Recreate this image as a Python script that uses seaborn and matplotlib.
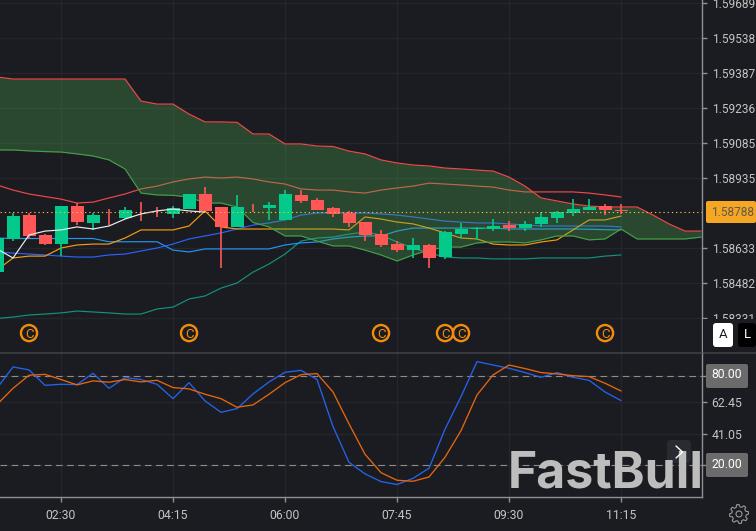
import numpy as np
import matplotlib
matplotlib.use('Agg')
import matplotlib.pyplot as plt
from matplotlib.lines import Line2D
from matplotlib.patches import FancyBboxPatch, Circle, Polygon
from matplotlib.transforms import IdentityTransform
import seaborn as sns

# 15 minute bars, minutes since midnight
times = np.arange(90, 765, 15)

opens = [1.58529,1.58672,1.58775,1.58689,1.58650,1.58814,1.58741,1.58771,1.58762,1.58797,1.58788,1.58780,1.58801,1.58866,1.58810,1.58724,1.58810,1.58806,1.58754,1.58862,
         1.58840,1.58806,1.58784,1.58745,1.58693,1.58650,1.58624,1.58646,1.58594,1.58693,1.58717,1.58715,1.58732,1.58719,1.58737,1.58762,1.58784,1.58797,1.58814,1.58797]
closes = [1.58676,1.58771,1.58685,1.58650,1.58814,1.58745,1.58775,1.58770,1.58797,1.58796,1.58787,1.58806,1.58866,1.58793,1.58724,1.58810,1.58809,1.58819,1.58866,1.58836,
          1.58797,1.58780,1.58741,1.58689,1.58646,1.58624,1.58646,1.58590,1.58702,1.58715,1.58718,1.58728,1.58719,1.58737,1.58767,1.58788,1.58801,1.58810,1.58797,1.58793]
highs = [1.58676,1.58784,1.58784,1.58693,1.58814,1.58827,1.58784,1.58801,1.58810,1.58831,1.58810,1.58814,1.58866,1.58896,1.58810,1.58862,1.58823,1.58831,1.58883,1.58883,
         1.58849,1.58810,1.58793,1.58745,1.58711,1.58663,1.58676,1.58650,1.58706,1.58741,1.58724,1.58758,1.58749,1.58749,1.58788,1.58793,1.58844,1.58844,1.58823,1.58823]
lows = [1.58529,1.58663,1.58672,1.58646,1.58598,1.58732,1.58711,1.58732,1.58758,1.58749,1.58767,1.58762,1.58801,1.58793,1.58547,1.58724,1.58788,1.58754,1.58754,1.58827,
        1.58797,1.58767,1.58724,1.58663,1.58637,1.58616,1.58590,1.58547,1.58586,1.58676,1.58668,1.58706,1.58706,1.58706,1.58724,1.58741,1.58771,1.58797,1.58775,1.58780]

cloud_top = [1.59371,1.59362,1.59362,1.59362,1.59362,1.59362,1.59362,1.59362,1.59362,1.59267,1.59254,1.59254,1.59211,1.59177,1.59177,1.59175,1.59125,1.59125,1.59082,1.59082,
             1.59073,1.59071,1.59051,1.59039,1.59013,1.59000,1.58991,1.58987,1.58978,1.58974,1.58969,1.58965,1.58939,1.58900,1.58849,1.58836,1.58823,1.58814,1.58810,1.58810,
             1.58810,1.58775,1.58737,1.58706,1.58706]
cloud_low = [1.59056,1.59056,1.59052,1.59049,1.59047,1.59039,1.59030,1.59013,1.58974,1.58870,1.58862,1.58860,1.58853,1.58827,1.58827,1.58810,1.58743,1.58724,1.58685,1.58685,
             1.58663,1.58642,1.58642,1.58624,1.58603,1.58577,1.58603,1.58624,1.58637,1.58637,1.58655,1.58659,1.58659,1.58655,1.58668,1.58685,1.58685,1.58668,1.58672,1.58715,
             1.58672,1.58672,1.58672,1.58672,1.58680]
band_up = [1.58905,1.58883,1.58866,1.58855,1.58844,1.58827,1.58831,1.58849,1.58866,1.58888,1.58900,1.58918,1.58931,1.58939,1.58935,1.58939,1.58931,1.58918,1.58909,1.58888,
           1.58883,1.58883,1.58875,1.58870,1.58883,1.58892,1.58900,1.58913,1.58909,1.58905,1.58900,1.58896,1.58883,1.58875,1.58875,1.58875,1.58875,1.58870,1.58862,1.58853]
white_line = [1.58629,1.58590,1.58689,1.58706,1.58711,1.58724,1.58715,1.58728,1.58758,1.58780,1.58793,1.58801,1.58793,1.58788]
orange_line = [1.58538,1.58590,1.58598,1.58598,1.58633,1.58646,1.58650,1.58650,1.58676,1.58711,1.58711,1.58711,1.58728,1.58793,1.58724,1.58715,1.58715,1.58715,1.58715,1.58715,
               1.58715,1.58715,1.58711,1.58767,1.58758,1.58745,1.58737,1.58719,1.58698,1.58676,1.58672,1.58650,1.58646,1.58646,1.58659,1.58668,1.58711,1.58754,1.58754,1.58771]
sky_line = [1.58676,1.58674,1.58674,1.58674,1.58674,1.58674,1.58674,1.58660,1.58660,1.58660,1.58660,1.58624,1.58616,1.58629,1.58629,1.58629,1.58629,1.58629,1.58646,1.58655,
            1.58659,1.58672,1.58680,1.58685,1.58685,1.58706,1.58719,1.58719,1.58719,1.58719,1.58719,1.58719,1.58715,1.58715,1.58715,1.58715,1.58715,1.58714,1.58712,1.58711]
blue_line = [1.58616,1.58611,1.58607,1.58603,1.58598,1.58594,1.58594,1.58603,1.58607,1.58620,1.58633,1.58650,1.58672,1.58685,1.58698,1.58715,1.58732,1.58741,1.58754,1.58775,
             1.58784,1.58784,1.58784,1.58784,1.58780,1.58775,1.58767,1.58758,1.58749,1.58745,1.58741,1.58741,1.58737,1.58732,1.58728,1.58728,1.58728,1.58728,1.58728,1.58724]
teal_line = [1.58329,1.58335,1.58344,1.58348,1.58353,1.58361,1.58357,1.58353,1.58348,1.58348,1.58370,1.58378,1.58413,1.58426,1.58460,1.58482,1.58529,1.58564,1.58607,1.58663,
             1.58676,1.58680,1.58693,1.58702,1.58689,1.58659,1.58633,1.58611,1.58594,1.58590,1.58590,1.58586,1.58586,1.58586,1.58590,1.58590,1.58590,1.58590,1.58598,1.58603]

stoch_k = [72,86.3,84.3,73.9,74.6,74.4,82,71.9,79.1,77.8,74.6,64.9,75.7,63.4,55.7,58.2,68.1,76.2,82.7,84,
           77.8,46.1,22,14.2,9,7,11.2,18,44.3,66.3,89.9,87.6,85.4,82.5,79.3,82.5,79.3,77.3,69.4,63.6]
stoch_d = [61,71.9,80.7,81.3,77.8,74.2,76.9,76,77.8,76.2,77.3,72.4,71.5,67.9,64.9,59.1,60.7,67.9,75.7,81.1,
           81.8,69.4,47.9,27.4,15,9.9,9.2,12.1,25.4,43.4,67.4,80.9,87.6,85.2,82.5,81.6,80.4,79.8,75.3,70.1]

event_times = [120, 270, 450, 510, 525, 660]
event_price = 1.58266
last_price = 1.58788

price_ticks = [1.59689, 1.59538, 1.59387, 1.59236, 1.59085, 1.58935, 1.58633, 1.58482, 1.58331]
stoch_ticks = [80, 62.45, 41.05, 20]
time_ticks = [150, 255, 360, 465, 570, 675]
time_labels = ['02:30', '04:15', '06:00', '07:45', '09:30', '11:15']

BG = '#1b1c21'
GRID = '#25262b'
AXIS = '#8f9094'
TEXT = '#c4c4c4'
UP = '#03c98a'
DOWN = '#ff5656'

sns.set_theme(style='dark', rc={'axes.facecolor': BG, 'figure.facecolor': BG})
plt.rcParams['font.family'] = ['Roboto', 'DejaVu Sans']

fig = plt.figure(figsize=(7.56, 5.31), dpi=100)
ax = fig.add_axes([0, 178 / 531, 702 / 756, 353 / 531])
ax2 = fig.add_axes([0, 34 / 531, 702 / 756, 144 / 531])

# main panel lines, cloud goes over them so they look muted inside it
n = len(opens)
line_kw = dict(ax=ax, legend=False, linewidth=0.85, estimator=None)
sns.lineplot(x=times[:n], y=band_up, color='#f04848', zorder=2, **line_kw)
sns.lineplot(x=times[:n], y=teal_line, color='#14917f', zorder=2, **line_kw)
sns.lineplot(x=times[:n], y=sky_line, color='#2196f3', zorder=2, **line_kw)
sns.lineplot(x=times[:n], y=blue_line, color='#2962ff', zorder=2, **line_kw)
sns.lineplot(x=times[:n], y=orange_line, color='#f39c12', zorder=2, **line_kw)
ax.fill_between(times, cloud_low, cloud_top, color='#4caf50', alpha=0.3, linewidth=0, zorder=3)
sns.lineplot(x=times, y=cloud_top, color='#f04848', zorder=4, **line_kw)
sns.lineplot(x=times, y=cloud_low, color='#43a047', zorder=4, **line_kw)

# candles
for t, o, c, h, l in zip(times, opens, closes, highs, lows):
    col = UP if c >= o else DOWN
    ax.vlines(t, l, h, color=col, linewidth=1.2, zorder=5)
    ax.bar(t, max(abs(c - o), 0.00002), bottom=min(o, c), width=12.2, color=col, linewidth=0, zorder=6)

sns.lineplot(x=times[:len(white_line)], y=white_line, color='#eeeeee', zorder=7, **line_kw)
ax.axhline(last_price, color='#f5b942', linewidth=0.8, dashes=(1.2, 2.6), zorder=8)

sns.scatterplot(x=event_times, y=[event_price] * len(event_times), ax=ax, s=135, marker='o',
                facecolor='none', edgecolor='#f28c0a', linewidth=1.7, legend=False, zorder=8)
for t in event_times:
    ax.text(t, event_price, 'C', color='#f28c0a', fontsize=9.5, ha='center', va='center_baseline', zorder=9)

ax.set_xlim(92.8, 750.9)
ax.set_ylim(1.58180, 1.59703)
ax.set_xticks(time_ticks)
ax.set_xticklabels([])
ax.set_yticks(price_ticks)
ax.set_yticklabels(['%.5f' % p for p in price_ticks])
ax.yaxis.tick_right()
ax.tick_params(axis='y', colors=AXIS, labelcolor=TEXT, labelsize=8.6, length=3.5, width=1, pad=3.5, right=True)
ax.tick_params(axis='x', length=0)

# oscillator panel
sns.lineplot(x=times[:n], y=stoch_k, ax=ax2, color='#2563eb', linewidth=0.95, estimator=None, legend=False, zorder=3)
sns.lineplot(x=times[:n], y=stoch_d, ax=ax2, color='#e8650c', linewidth=0.95, estimator=None, legend=False, zorder=3)
for lvl in [80, 20]:
    ax2.axhline(lvl, color='#8c8c8c', linewidth=0.8, dashes=(6, 4), zorder=2)
ax2.set_xlim(92.8, 750.9)
ax2.set_ylim(-1.4, 95.7)
ax2.set_xticks(time_ticks)
ax2.set_xticklabels(time_labels)
ax2.set_yticks(stoch_ticks)
ax2.set_yticklabels(['', '62.45', '41.05', ''])
ax2.yaxis.tick_right()
ax2.tick_params(axis='y', colors=AXIS, labelcolor=TEXT, labelsize=8.8, length=3.5, width=1, pad=3.5, right=True)
ax2.tick_params(axis='x', colors=AXIS, labelcolor=TEXT, labelsize=8.8, length=3.5, width=1, pad=5, bottom=True)

for a in [ax, ax2]:
    a.set_xlabel('')
    a.set_ylabel('')
    a.grid(True, color=GRID, linewidth=1, zorder=0)
    a.set_axisbelow(True)
    for s in ['left', 'top', 'bottom']:
        a.spines[s].set_visible(False)
    a.spines['right'].set_visible(True)
    a.spines['right'].set_color(AXIS)
    a.spines['right'].set_linewidth(1)
ax2.spines['bottom'].set_visible(True)
ax2.spines['bottom'].set_color(AXIS)
ax2.spines['bottom'].set_linewidth(1)


# page furniture, given in screen pixels from the top left
def box(x0, y0, x1, y1, color, round_px=0, z=5):
    p = FancyBboxPatch((x0 + round_px, 531 - y1 + round_px), x1 - x0 - 2 * round_px, y1 - y0 - 2 * round_px,
                       boxstyle='round,pad=%g,rounding_size=%g' % (round_px, round_px), facecolor=color,
                       edgecolor='none', linewidth=0, transform=IdentityTransform(), zorder=z)
    fig.add_artist(p)


def label(x, y, s, z=7, **kw):
    fig.text(x / 756, 1 - y / 531, s, zorder=z, **kw)


box(703, 319, 756, 352, BG)
box(0, 352.5, 756, 353.5, '#55565a')
box(706, 201, 756, 223, '#f5a623', 2)
label(711, 212, '%.5f' % last_price, color='#5f5a4c', fontsize=8.6, va='center')
box(713, 323, 733, 347, '#ffffff', 3)
label(723, 335, 'A', color='#1b1c21', fontsize=9.5, ha='center', va='center')
box(738, 323, 756, 347, '#000000', 3)
label(747, 335, 'L', color='#ffffff', fontsize=9.5, ha='center', va='center')
box(706, 364, 748, 388, '#6b6b6b', 2)
label(727, 375, '80.00', color='#ffffff', fontsize=8.8, ha='center', va='center')
box(706, 453, 748, 477, '#6b6b6b', 2)
label(727, 464, '20.00', color='#ffffff', fontsize=8.8, ha='center', va='center')
box(667, 440, 691, 463, '#2a2b30', 4)
label(508, 487, 'FastBull', z=8, color='#bdbdbd', fontsize=36, fontweight='bold', family='Inter', va='baseline')
fig.add_artist(Line2D([676, 682.5, 676], [531 - 446, 531 - 452, 531 - 458], color='white', linewidth=1,
                      transform=IdentityTransform(), zorder=9))

# settings gear outline
gear_ang = np.linspace(0, 2 * np.pi, 49)[:-1]
gear_r = np.where((np.arange(48) % 6) < 3, 9.5, 7.2)
gear_xy = np.column_stack([739 + gear_r * np.cos(gear_ang), 531 - 514 + gear_r * np.sin(gear_ang)])
fig.add_artist(Polygon(gear_xy, closed=True, facecolor='none', edgecolor='#9a9a9a', linewidth=0.8,
                       transform=IdentityTransform(), zorder=7))
fig.add_artist(Circle((739, 531 - 514), 3, facecolor='none', edgecolor='#9a9a9a', linewidth=0.8,
                      transform=IdentityTransform(), zorder=7))

fig.savefig('out.png', dpi=100, facecolor=BG)
